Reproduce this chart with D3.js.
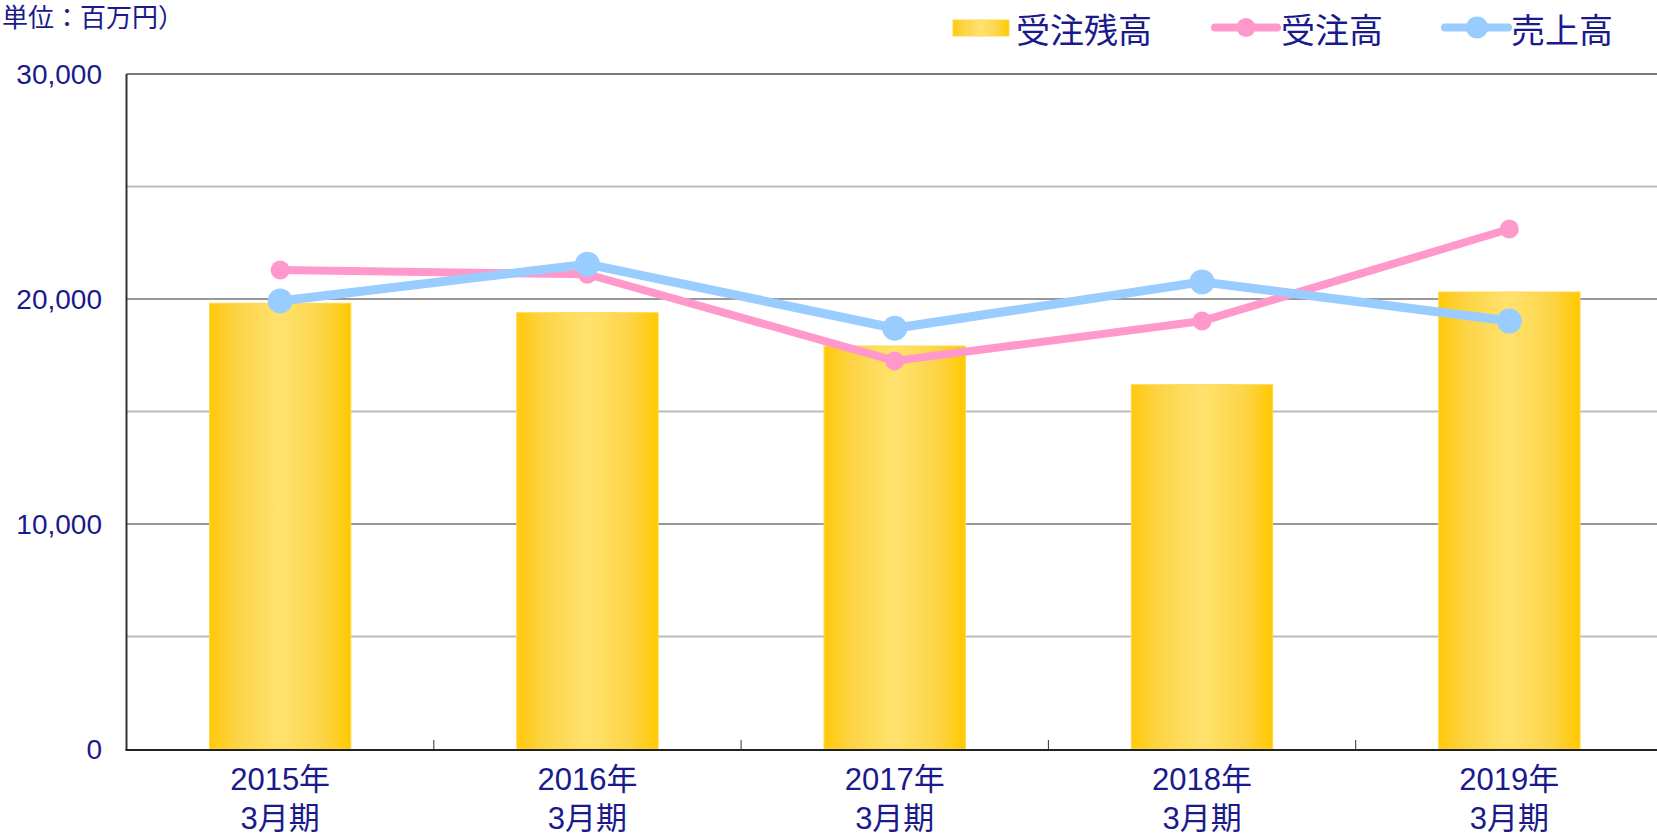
<!DOCTYPE html>
<html><head><meta charset="utf-8">
<script src="https://cdn.jsdelivr.net/npm/d3@7"></script>
<style>html,body{margin:0;padding:0;background:#fff;overflow:hidden}</style>
</head><body>
<svg id="chart" width="1657" height="836"></svg>
<script>
const categories = ["2015年|3月期","2016年|3月期","2017年|3月期","2018年|3月期","2019年|3月期"];
const backlog = [19810, 19390, 17910, 16190, 20310];   // 受注残高
const orders  = [21290, 21100, 17250, 19020, 23110];   // 受注高
const sales   = [19910, 21550, 18700, 20760, 19020];   // 売上高
const yTicks  = [0, 10000, 20000, 30000];
const gridVals = [5000, 10000, 15000, 20000, 25000, 30000];
const seriesNames = ["受注残高","受注高","売上高"];

const navy = "#1a1a8c";
const pink = "#ff99cc";
const blue = "#99ccff";
const svg = d3.select("#chart");

const L = 126.5, R = 1663, T = 74, B = 749, W = 1657;
const x = d3.scaleBand().domain(d3.range(categories.length)).range([L, R]).padding(0);
const y = d3.scaleLinear().domain([0, 30000]).range([B, T]);

// gradient
const defs = svg.append("defs");
const g = defs.append("linearGradient").attr("id","barGrad").attr("x1","0").attr("x2","1").attr("y1","0").attr("y2","0");
[[0,"#ffc90a"],[0.2,"#fdd447"],[0.5,"#ffe26e"],[0.8,"#fdd447"],[1,"#ffc900"]].forEach(([o,c]) =>
  g.append("stop").attr("offset", o).attr("stop-color", c));

// gridlines
svg.append("g").selectAll("line").data(gridVals).join("line")
  .attr("x1", L).attr("x2", W)
  .attr("y1", d => y(d)).attr("y2", d => y(d))
  .attr("stroke", d => d === 30000 ? "#7a7a7a" : (d % 10000 === 0 ? "#999" : "#bbb"))
  .attr("stroke-width", 2);

// bars
const barW = x.bandwidth() * 0.46;
svg.append("g").selectAll("rect").data(backlog).join("rect")
  .attr("x", (d,i) => x(i) + x.bandwidth()/2 - barW/2)
  .attr("y", d => y(d))
  .attr("width", barW)
  .attr("height", d => B - y(d))
  .attr("fill", "url(#barGrad)")
  .attr("stroke", "#ffd84a").attr("stroke-width", 1);

// axes
svg.append("line").attr("x1", L).attr("x2", L).attr("y1", T).attr("y2", B+1).attr("stroke", "#333").attr("stroke-width", 2);
svg.append("line").attr("x1", L-1).attr("x2", W).attr("y1", B+1).attr("y2", B+1).attr("stroke", "#222").attr("stroke-width", 2);
// inner ticks at category boundaries
svg.append("g").selectAll("line").data(d3.range(1, categories.length)).join("line")
  .attr("x1", i => x(i)).attr("x2", i => x(i))
  .attr("y1", B - 9).attr("y2", B)
  .attr("stroke", "#333").attr("stroke-width", 1);

// y tick labels
svg.append("g").selectAll("text").data(yTicks).join("text")
  .attr("x", 102).attr("y", d => y(d) + 10)
  .attr("text-anchor", "end")
  .attr("font-family", "'Liberation Sans', Arial, sans-serif")
  .attr("font-size", 28).attr("fill", navy)
  .text(d => d3.format(",")(d));

// x labels
const xl = svg.append("g").selectAll("text").data(categories).join("text")
  .attr("text-anchor", "middle")
  .attr("font-family", "'Liberation Sans', 'Noto Sans CJK JP', sans-serif")
  .attr("font-size", 31).attr("fill", navy);
xl.each(function(d, i) {
  const parts = d.split("|");
  const cx = x(i) + x.bandwidth()/2;
  d3.select(this).append("tspan").attr("x", cx).attr("y", 790).text(parts[0]);
  d3.select(this).append("tspan").attr("x", cx).attr("y", 829).text(parts[1]);
});

// lines
const lineGen = d3.line().x((d,i) => x(i) + x.bandwidth()/2).y(d => y(d));
function drawSeries(data, color, w, r) {
  svg.append("path").datum(data).attr("d", lineGen)
    .attr("fill", "none").attr("stroke", color).attr("stroke-width", w)
    .attr("stroke-linejoin", "round");
  svg.append("g").selectAll("circle").data(data).join("circle")
    .attr("cx", (d,i) => x(i) + x.bandwidth()/2).attr("cy", d => y(d))
    .attr("r", r).attr("fill", color);
}
drawSeries(orders, pink, 8, 9.5);
drawSeries(sales, blue, 9, 12.5);

// unit label
svg.append("text").attr("x", 2).attr("y", 15.5).attr("dominant-baseline", "central")
  .attr("font-family", "'Noto Sans CJK JP', sans-serif").attr("font-size", 26).attr("fill", navy)
  .text("単位：百万円）");

// legend
const lg = svg.append("g").attr("font-family", "'Noto Sans CJK JP', sans-serif").attr("font-size", 34).attr("fill", navy);
lg.append("rect").attr("x", 953).attr("y", 20).attr("width", 56).attr("height", 16).attr("fill", "url(#barGrad)").attr("stroke", "#ffd84a");
lg.append("text").attr("x", 1016).attr("y", 28).attr("dominant-baseline", "central").text(seriesNames[0]);
lg.append("line").attr("x1", 1215).attr("x2", 1277).attr("y1", 27.5).attr("y2", 27.5).attr("stroke", pink).attr("stroke-width", 8).attr("stroke-linecap", "round");
lg.append("circle").attr("cx", 1246).attr("cy", 27.5).attr("r", 9.5).attr("fill", pink);
lg.append("text").attr("x", 1281).attr("y", 28).attr("dominant-baseline", "central").text(seriesNames[1]);
lg.append("line").attr("x1", 1445).attr("x2", 1508).attr("y1", 27.5).attr("y2", 27.5).attr("stroke", blue).attr("stroke-width", 8).attr("stroke-linecap", "round");
lg.append("circle").attr("cx", 1477).attr("cy", 27.5).attr("r", 11).attr("fill", blue);
lg.append("text").attr("x", 1511).attr("y", 28).attr("dominant-baseline", "central").text(seriesNames[2]);
</script>
</body></html>
